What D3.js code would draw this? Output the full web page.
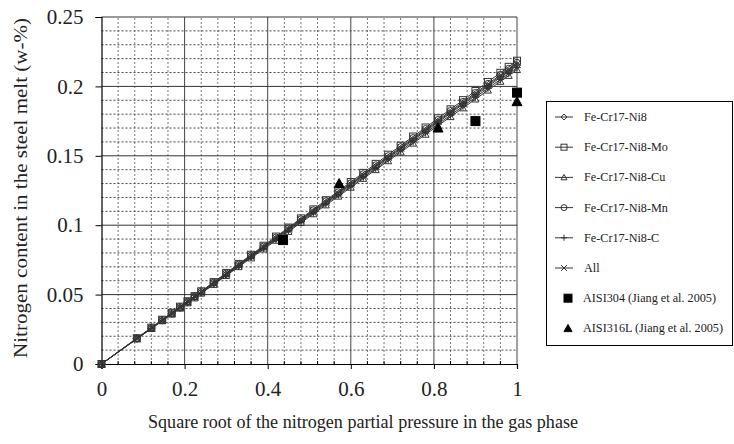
<!DOCTYPE html>
<html>
<head>
<meta charset="utf-8">
<script src="https://cdn.jsdelivr.net/npm/d3@7"></script>
<style>
  html, body { margin: 0; padding: 0; background: #fff; }
  svg { display: block; }
  svg text { font-family: "Liberation Serif", "Times New Roman", serif; }
</style>
</head>
<body>
<svg id="chart" width="734" height="444"></svg>
<script>
// Square root of N2 partial pressure (x) shared by all calculated series
const sqrtP = [0, 0.085, 0.12, 0.146, 0.169, 0.189, 0.207, 0.224, 0.24, 0.27, 0.3, 0.33, 0.36, 0.39, 0.42, 0.45, 0.48, 0.51, 0.54, 0.57, 0.6, 0.63, 0.66, 0.69, 0.72, 0.75, 0.78, 0.81, 0.84, 0.87, 0.9, 0.93, 0.96, 0.98, 1.0];

// Calculated nitrogen content (w-%) for each alloy
const nFeCrNi   = [0, 0.0183, 0.0258, 0.0314, 0.0363, 0.0406, 0.0445, 0.0482, 0.0516, 0.0581, 0.0645, 0.0710, 0.0774, 0.0839, 0.0903, 0.0968, 0.1032, 0.1097, 0.1161, 0.1226, 0.1290, 0.1355, 0.1419, 0.1484, 0.1548, 0.1613, 0.1677, 0.1742, 0.1806, 0.1871, 0.1935, 0.2000, 0.2064, 0.2107, 0.2150];
const nFeCrNiMo = [0, 0.0186, 0.0262, 0.0319, 0.0369, 0.0413, 0.0452, 0.0489, 0.0524, 0.0590, 0.0656, 0.0721, 0.0787, 0.0852, 0.0918, 0.0983, 0.1049, 0.1114, 0.1180, 0.1245, 0.1311, 0.1377, 0.1442, 0.1508, 0.1573, 0.1639, 0.1704, 0.1770, 0.1835, 0.1901, 0.1967, 0.2032, 0.2098, 0.2141, 0.2185];
const nFeCrNiCu = [0, 0.0180, 0.0254, 0.0310, 0.0358, 0.0401, 0.0439, 0.0475, 0.0509, 0.0572, 0.0636, 0.0700, 0.0763, 0.0827, 0.0890, 0.0954, 0.1018, 0.1081, 0.1145, 0.1208, 0.1272, 0.1336, 0.1399, 0.1463, 0.1526, 0.1590, 0.1654, 0.1717, 0.1781, 0.1844, 0.1908, 0.1972, 0.2035, 0.2078, 0.2120];
const nFeCrNiMn = [0, 0.0184, 0.0260, 0.0317, 0.0367, 0.0410, 0.0449, 0.0486, 0.0521, 0.0586, 0.0651, 0.0716, 0.0781, 0.0846, 0.0911, 0.0977, 0.1042, 0.1107, 0.1172, 0.1237, 0.1302, 0.1367, 0.1432, 0.1497, 0.1562, 0.1628, 0.1693, 0.1758, 0.1823, 0.1888, 0.1953, 0.2018, 0.2083, 0.2127, 0.2170];
const nFeCrNiC  = [0, 0.0181, 0.0256, 0.0312, 0.0361, 0.0404, 0.0442, 0.0478, 0.0512, 0.0576, 0.0641, 0.0705, 0.0769, 0.0833, 0.0897, 0.0961, 0.1025, 0.1089, 0.1153, 0.1217, 0.1281, 0.1345, 0.1409, 0.1473, 0.1537, 0.1601, 0.1665, 0.1729, 0.1793, 0.1857, 0.1922, 0.1986, 0.2050, 0.2092, 0.2135];
const nAll      = [0, 0.0184, 0.0259, 0.0315, 0.0365, 0.0408, 0.0447, 0.0484, 0.0518, 0.0583, 0.0648, 0.0713, 0.0778, 0.0842, 0.0907, 0.0972, 0.1037, 0.1102, 0.1166, 0.1231, 0.1296, 0.1361, 0.1426, 0.1490, 0.1555, 0.1620, 0.1685, 0.1750, 0.1814, 0.1879, 0.1944, 0.2009, 0.2074, 0.2117, 0.2160];

// Measured values (Jiang et al. 2005)
const aisi304X  = [0.437, 0.90, 1.0];
const aisi304Y  = [0.0893, 0.175, 0.1955];
const aisi316X  = [0.572, 0.81, 1.0];
const aisi316Y  = [0.130, 0.170, 0.189];

const seriesNames = ["Fe-Cr17-Ni8", "Fe-Cr17-Ni8-Mo", "Fe-Cr17-Ni8-Cu", "Fe-Cr17-Ni8-Mn", "Fe-Cr17-Ni8-C", "All"];
const seriesValues = [nFeCrNi, nFeCrNiMo, nFeCrNiCu, nFeCrNiMn, nFeCrNiC, nAll];
const seriesMarkers = ["diamond", "square", "triangle", "circle", "plus", "cross"];

const xTicks = [0, 0.2, 0.4, 0.6, 0.8, 1];
const yTicks = [0, 0.05, 0.1, 0.15, 0.2, 0.25];
const xTickLabels = ["0", "0.2", "0.4", "0.6", "0.8", "1"];
const yTickLabels = ["0", "0.05", "0.1", "0.15", "0.2", "0.25"];

const SERIF = "'Liberation Serif', 'Times New Roman', serif";
const svg = d3.select("#chart");
const x = d3.scaleLinear().domain([0, 1]).range([101.5, 517]);
const y = d3.scaleLinear().domain([0, 0.25]).range([364, 17]);

// ---- grid ----
const grid = svg.append("g");
const minorX = d3.range(1, 25).map(i => i * 0.04).filter(v => Math.abs(v / 0.2 - Math.round(v / 0.2)) > 1e-6);
const minorY = d3.range(1, 25).map(i => i * 0.01).filter(v => Math.abs(v / 0.05 - Math.round(v / 0.05)) > 1e-6);
grid.selectAll(".vminor").data(minorX).join("line")
  .attr("x1", d => x(d)).attr("x2", d => x(d)).attr("y1", y(0)).attr("y2", y(0.25))
  .attr("stroke", "#777").attr("stroke-width", 1).attr("stroke-dasharray", "2,2");
grid.selectAll(".hminor").data(minorY).join("line")
  .attr("x1", x(0)).attr("x2", x(1)).attr("y1", d => y(d)).attr("y2", d => y(d))
  .attr("stroke", "#444").attr("stroke-width", 1).attr("stroke-dasharray", "2,2");
grid.selectAll(".vmajor").data(xTicks.slice(1)).join("line")
  .attr("x1", d => x(d)).attr("x2", d => x(d)).attr("y1", y(0)).attr("y2", y(0.25))
  .attr("stroke", "#444").attr("stroke-width", 1);
grid.selectAll(".hmajor").data(yTicks.slice(1)).join("line")
  .attr("x1", x(0)).attr("x2", x(1)).attr("y1", d => y(d)).attr("y2", d => y(d))
  .attr("stroke", "#333").attr("stroke-width", 1);

// ---- axes ----
const yAxis = svg.append("g").attr("transform", `translate(${x(0)},0)`)
  .call(d3.axisLeft(y).tickValues(yTicks).tickFormat((d, i) => yTickLabels[i]).tickSize(6).tickPadding(12));
const xAxis = svg.append("g").attr("transform", `translate(0,${y(0)})`)
  .call(d3.axisBottom(x).tickValues(xTicks).tickFormat((d, i) => xTickLabels[i]).tickSize(5).tickPadding(12));
[xAxis, yAxis].forEach(a => {
  a.attr("font-family", null).style("font-family", SERIF);
  a.select(".domain").attr("stroke", "#000").attr("stroke-width", 1.2);
  a.selectAll(".tick line").attr("stroke", "#000");
  a.selectAll("text").style("font-family", SERIF).attr("font-size", 21).attr("fill", "#222");
});
xAxis.selectAll(".minor").data(minorX).join("line")
  .attr("x1", d => x(d)).attr("x2", d => x(d)).attr("y1", 0).attr("y2", -3)
  .attr("stroke", "#000");

// ---- markers ----
function drawMarker(g, type, size, filled) {
  const s = size / 2;
  const stroke = "#333";
  const fill = filled ? "#000" : "none";
  if (type === "diamond") {
    g.append("path").attr("d", `M0,${-s}L${s},0L0,${s}L${-s},0Z`).attr("fill", fill).attr("stroke", stroke);
  } else if (type === "square") {
    g.append("rect").attr("x", -s).attr("y", -s).attr("width", size).attr("height", size).attr("fill", fill).attr("stroke", filled ? "#000" : stroke);
  } else if (type === "triangle") {
    g.append("path").attr("d", `M0,${-s}L${s},${s * 0.8}L${-s},${s * 0.8}Z`).attr("fill", fill).attr("stroke", filled ? "#000" : stroke);
  } else if (type === "circle") {
    g.append("circle").attr("r", s).attr("fill", fill).attr("stroke", stroke);
  } else if (type === "plus") {
    g.append("path").attr("d", `M${-s},0L${s},0M0,${-s}L0,${s}`).attr("stroke", stroke);
  } else if (type === "cross") {
    g.append("path").attr("d", `M${-s},${-s}L${s},${s}M${-s},${s}L${s},${-s}`).attr("stroke", stroke);
  }
}

// ---- calculated series ----
const line = d3.line().x(d => x(d[0])).y(d => y(d[1]));
seriesValues.forEach((vals, si) => {
  const pts = sqrtP.map((p, i) => [p, vals[i]]);
  const g = svg.append("g");
  g.append("path").datum(pts).attr("d", line).attr("fill", "none").attr("stroke", "#333").attr("stroke-width", 1);
  g.selectAll("g").data(pts).join("g")
    .attr("transform", d => `translate(${x(d[0])},${y(d[1])})`)
    .each(function () { drawMarker(d3.select(this), seriesMarkers[si], 7, false); });
});

// ---- measurements ----
svg.append("g").selectAll("g").data(aisi304X.map((v, i) => [v, aisi304Y[i]])).join("g")
  .attr("transform", d => `translate(${x(d[0])},${y(d[1])})`)
  .each(function () { drawMarker(d3.select(this), "square", 9, true); });
svg.append("g").selectAll("g").data(aisi316X.map((v, i) => [v, aisi316Y[i]])).join("g")
  .attr("transform", d => `translate(${x(d[0])},${y(d[1])})`)
  .each(function () { drawMarker(d3.select(this), "triangle", 10, true); });

// ---- axis titles ----
svg.append("text").attr("x", 363).attr("y", 428).attr("text-anchor", "middle")
  .attr("font-size", 18).attr("fill", "#222").attr("textLength", 430).attr("lengthAdjust", "spacingAndGlyphs")
  .text("Square root of the nitrogen partial pressure in the gas phase");
svg.append("text").attr("transform", "translate(27,188) rotate(-90)").attr("text-anchor", "middle")
  .attr("font-size", 19).attr("fill", "#222").attr("textLength", 340).attr("lengthAdjust", "spacingAndGlyphs")
  .text("Nitrogen content in the steel melt (w-%)");

// ---- legend ----
const legend = svg.append("g");
legend.append("rect").attr("x", 546.5).attr("y", 101.5).attr("width", 186).attr("height", 244)
  .attr("fill", "#fff").attr("stroke", "#000").attr("stroke-width", 1);
const legendItems = seriesNames.map((n, i) => ({ name: n, marker: seriesMarkers[i], line: true }))
  .concat([{ name: "AISI304 (Jiang et al. 2005)", marker: "square", line: false },
           { name: "AISI316L (Jiang et al. 2005)", marker: "triangle", line: false }]);
legendItems.forEach((it, i) => {
  const cy = 117 + i * 30.2;
  const g = legend.append("g").attr("transform", `translate(0,${cy})`);
  if (it.line) {
    g.append("line").attr("x1", 555).attr("x2", 573).attr("y1", 0).attr("y2", 0).attr("stroke", "#333");
    const m = g.append("g").attr("transform", "translate(564,0)");
    drawMarker(m, it.marker, 6, false);
  } else {
    const m = g.append("g").attr("transform", "translate(568,0)");
    drawMarker(m, it.marker, 8, true);
  }
  g.append("text").attr("x", it.line ? 584 : 583).attr("y", 4)
    .style("font-family", SERIF).attr("font-size", 12.2).attr("fill", "#222").text(it.name);
});
</script>
</body>
</html>
